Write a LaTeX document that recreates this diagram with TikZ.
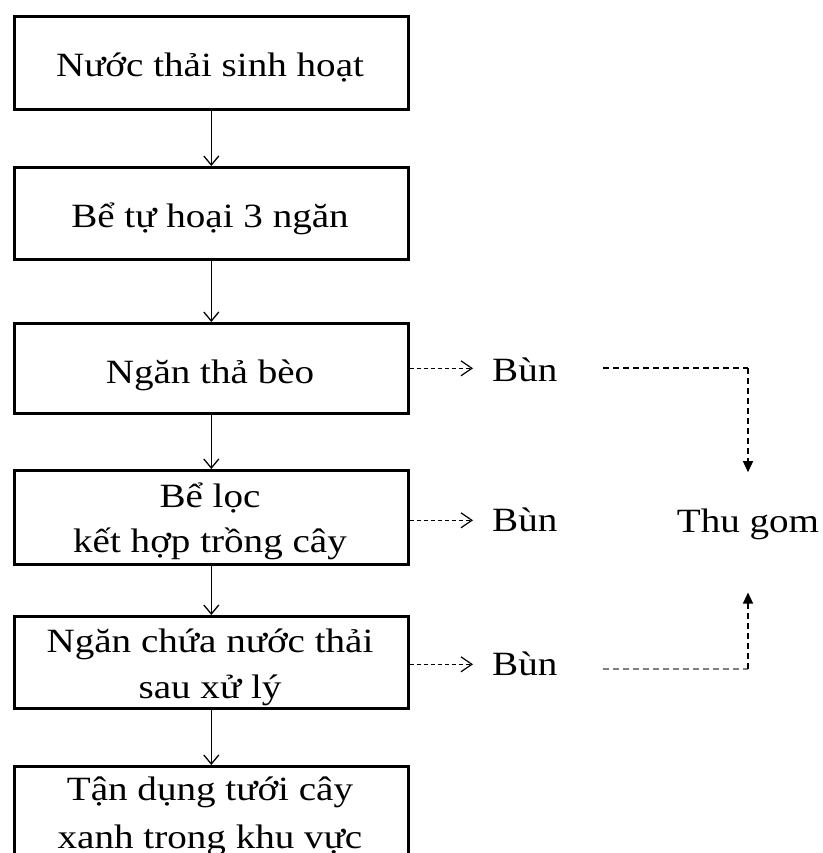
\documentclass[tikz,border=0pt]{standalone}
\usepackage{fontspec}
\setmainfont[FakeStretch=1.15]{Liberation Serif}
\usetikzlibrary{arrows.meta}
\begin{document}
\begin{tikzpicture}[x=1pt,y=-1pt,
  box/.style={draw,line width=2.6pt,minimum width=394pt,inner sep=0pt,anchor=north west},
  lbl/.style={font=\fontsize{34}{46}\selectfont,anchor=base,inner sep=0pt},
  side/.style={font=\fontsize{34}{46}\selectfont,anchor=base west,inner sep=0pt},
  flow/.style={line width=1.3pt,-{Straight Barb[length=9pt,width=15pt]}},
  sludge/.style={line width=1.2pt,dash pattern=on 4pt off 3pt,-{Straight Barb[length=11pt,width=15pt]}},
  collect/.style={line width=1.4pt,dash pattern=on 6pt off 4pt},
  tip/.style={-{Triangle[length=11pt,width=10pt]}}]
\useasboundingbox (0,0) rectangle (822,853);
\clip (0,0) rectangle (822,853);
% boxes
\node[box,minimum height=93pt] (b1) at (13,15) {};
\node[box,minimum height=92pt] (b2) at (13,166) {};
\node[box,minimum height=90pt] (b3) at (13,322) {};
\node[box,minimum height=94pt] (b4) at (13,469) {};
\node[box,minimum height=92pt] (b5) at (13,615) {};
\node[box,minimum height=150pt] (b6) at (13,765) {};
% box texts
\node[lbl] (t1) at (210,77) {Nước thải sinh hoạt};
\node[lbl] (t2) at (210,227) {Bể tự hoại 3 ngăn};
\node[lbl] (t3) at (210,383) {Ngăn thả bèo};
\node[lbl] (t4a) at (210,507) {Bể lọc};
\node[lbl] (t4b) at (210,552) {kết hợp trồng cây};
\node[lbl] (t5a) at (210,652) {Ngăn chứa nước thải};
\node[lbl] (t5b) at (210,698) {sau xử lý};
\node[lbl] (t6a) at (210,800) {Tận dụng tưới cây};
\node[lbl] (t6b) at (210,848) {xanh trong khu vực};
% side labels
\node[side] (m1) at (492,381) {Bùn};
\node[side] (m2) at (492,531) {Bùn};
\node[side] (m3) at (492,675) {Bùn};
\node[lbl] (tg) at (748,532) {Thu gom};
% main flow
\draw[flow] (b1.south) -- (b2.north);
\draw[flow] (b2.south) -- (b3.north);
\draw[flow] (b3.south) -- (b4.north);
\draw[flow] (b4.south) -- (b5.north);
\draw[flow] (b5.south) -- (b6.north);
% sludge arrows
\draw[sludge,shorten >=19pt] (b3.east) -- (b3.east -| m1.west);
\draw[sludge,shorten >=19pt] ([yshift=-3pt]b4.east) -- ([yshift=-3pt]b4.east -| m2.west);
\draw[sludge,shorten >=19pt] ([yshift=-2pt]b5.east) -- ([yshift=-2pt]b5.east -| m3.west);
% collection
\coordinate (k1) at (748,368);
\coordinate (k3) at (748,669);
\draw[collect] (603,368) -- (k1);
\draw[collect,tip,shorten >=36pt] (k1) -- (tg.north);
\draw[collect,gray] (603,669) -- (k3);
\draw[collect,tip,shorten >=53pt] (k3) -- (tg.south);
\end{tikzpicture}
\end{document}
